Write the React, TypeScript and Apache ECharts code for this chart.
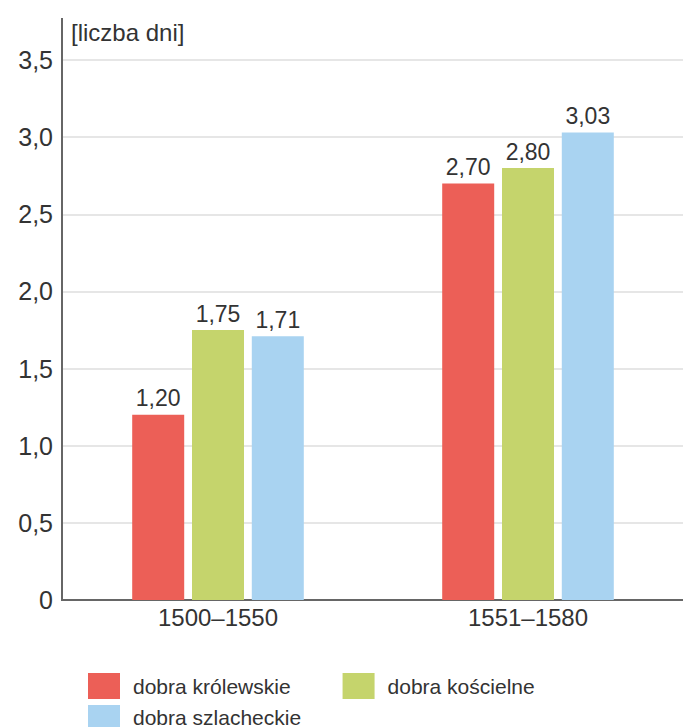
import React, { useEffect, useRef } from "react";
import * as echarts from "echarts";

const categories = ["1500–1550", "1551–1580"];
const seriesNames = ["dobra królewskie", "dobra kościelne", "dobra szlacheckie"];
const krolewskie = [1.2, 2.7];
const koscielne = [1.75, 2.8];
const szlacheckie = [1.71, 3.03];
const colors = ["#ec5f57", "#c5d46c", "#a9d3f1"];
const yTicks = { min: 0, max: 3.5, interval: 0.5 };
const axisName = "[liczba dni]";

const FONT = "'Liberation Sans', Arial, sans-serif";

export default function App() {
  const ref = useRef<HTMLDivElement>(null);
  useEffect(() => {
    document.body.style.margin = "0";
    const chart = echarts.init(ref.current!, null, { renderer: "svg" });
    const values = [krolewskie, koscielne, szlacheckie];
    const fmt = (v: number) => v.toFixed(2).replace(".", ",");
    const legendText = { fontSize: 21, color: "#333", fontFamily: FONT, padding: [0, 0, 0, 8] };
    chart.setOption({
      animation: false,
      textStyle: { fontFamily: FONT },
      grid: { left: 63, right: -5, top: 60, bottom: 127 },
      graphic: [
        {
          type: "line",
          shape: { x1: 62, y1: 18, x2: 62, y2: 601 },
          style: { stroke: "#666", lineWidth: 2 },
          z: 10,
        },
      ],
      legend: [
        {
          data: [seriesNames[0], seriesNames[1]],
          left: 83,
          top: 668,
          itemWidth: 32,
          itemHeight: 26,
          itemGap: 52,
          icon: "rect",
          textStyle: legendText,
        },
        {
          data: [seriesNames[2]],
          left: 83,
          top: 700,
          itemWidth: 32,
          itemHeight: 24,
          icon: "rect",
          textStyle: legendText,
        },
      ],
      xAxis: {
        type: "category",
        data: categories,
        axisLine: { lineStyle: { color: "#666", width: 2 } },
        axisTick: { show: false },
        axisLabel: { fontSize: 24, color: "#333", margin: 5, fontFamily: FONT },
      },
      yAxis: {
        type: "value",
        min: yTicks.min,
        max: yTicks.max,
        interval: yTicks.interval,
        name: axisName,
        nameLocation: "end",
        nameGap: 16,
        nameTextStyle: { fontSize: 24, color: "#333", align: "left", padding: [0, 0, 0, 8], fontFamily: FONT },
        axisLine: { show: false },
        axisTick: { show: false },
        splitLine: { lineStyle: { color: "#dedede", width: 1.5 } },
        axisLabel: {
          fontSize: 25,
          color: "#333",
          margin: 10,
          fontFamily: FONT,
          formatter: (v: number) => (v === 0 ? "0" : v.toFixed(1).replace(".", ",")),
        },
      },
      series: seriesNames.map((name, i) => ({
        name,
        type: "bar",
        data: values[i],
        barWidth: 52,
        barGap: "15%",
        itemStyle: { color: colors[i] },
        label: {
          show: true,
          position: "top",
          distance: 5,
          fontSize: 23,
          color: "#333",
          fontFamily: FONT,
          formatter: (p: any) => fmt(p.value),
        },
      })),
    });
    return () => chart.dispose();
  }, []);
  return <div ref={ref} style={{ width: 683, height: 727 }} />;
}
